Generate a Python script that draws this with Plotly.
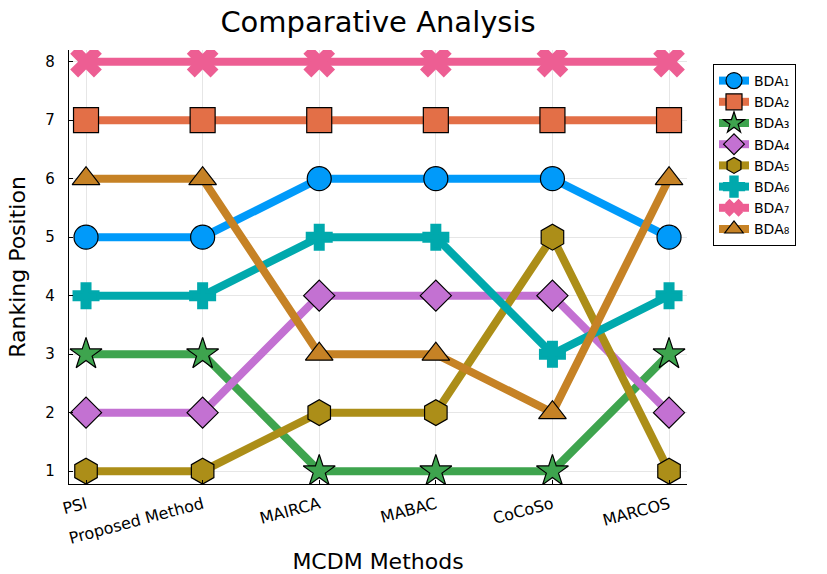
import plotly.graph_objects as go

methods = ["PSI", "Proposed Method", "MAIRCA", "MABAC", "CoCoSo", "MARCOS"]
names = ["BDA₁", "BDA₂", "BDA₃", "BDA₄", "BDA₅", "BDA₆", "BDA₇", "BDA₈"]

bda1 = [5, 5, 6, 6, 6, 5]
bda2 = [7, 7, 7, 7, 7, 7]
bda3 = [3, 3, 1, 1, 1, 3]
bda4 = [2, 2, 4, 4, 4, 2]
bda5 = [1, 1, 2, 2, 5, 1]
bda6 = [4, 4, 5, 5, 3, 4]
bda7 = [8, 8, 8, 8, 8, 8]
bda8 = [6, 6, 3, 3, 2, 6]
series = [bda1, bda2, bda3, bda4, bda5, bda6, bda7, bda8]

colors = ["#009AFA", "#E36F47", "#3EA44E", "#C371D2",
          "#AC8E18", "#00A9AD", "#ED5E93", "#C68225"]
symbols = ["circle", "square", "star", "diamond",
           "hexagon", "cross", "x", "triangle-up"]
sizes = [24, 25, 24, 24, 26, 20, 28, 24]
# black outline for most symbols; cross and x are thickened in their own colour
edge = [("black", 1.2)] * 5 + [("#00A9AD", 3), ("#ED5E93", 0), ("black", 1.2)]

xs = list(range(len(methods)))

fig = go.Figure()
for name, ys, c, s, sz, (ec, ew) in zip(names, series, colors, symbols, sizes, edge):
    fig.add_trace(go.Scatter(
        x=xs, y=ys, name=name, mode="lines+markers",
        line=dict(color=c, width=8),
        marker=dict(symbol=s, size=sz, color=c, line=dict(color=ec, width=ew)),
    ))

font = "DejaVu Sans"
fig.update_layout(
    width=827, height=574,
    margin=dict(l=69, r=140, t=50, b=90),
    plot_bgcolor="white", paper_bgcolor="white",
    font=dict(family=font, color="black"),
    title=dict(text="Comparative Analysis", x=378 / 827, xanchor="center",
               y=1 - 22 / 574, yanchor="middle",
               font=dict(size=29, family=font)),
    legend=dict(x=(713 - 69) / 618, y=(484 - 64) / 434,
                xanchor="left", yanchor="top",
                bordercolor="black", borderwidth=1, bgcolor="white",
                font=dict(size=14, family=font), tracegroupgap=0,
                itemwidth=30),
    showlegend=True,
)
fig.update_xaxes(
    range=[-0.146, 5.154], tickmode="array", tickvals=xs, ticktext=methods,
    tickangle=-15, tickfont=dict(size=16), ticklabelstandoff=4,
    showgrid=True, gridcolor="#e6e6e6", gridwidth=1,
    showline=True, linecolor="black", linewidth=1.2,
    ticks="inside", ticklen=4, tickcolor="black", zeroline=False,
    automargin=False,
    title=dict(text="MCDM Methods", font=dict(size=22)),
)
fig.update_yaxes(
    range=[0.78, 8.2], tickmode="array", tickvals=list(range(1, 9)),
    tickfont=dict(size=15), ticklabelstandoff=10,
    showgrid=True, gridcolor="#e6e6e6", gridwidth=1,
    showline=True, linecolor="black", linewidth=1.2,
    ticks="inside", ticklen=4, tickcolor="black", zeroline=False,
    automargin=False,
    title=dict(text="Ranking Position", font=dict(size=22), standoff=13),
)

fig.write_html("out.html")
